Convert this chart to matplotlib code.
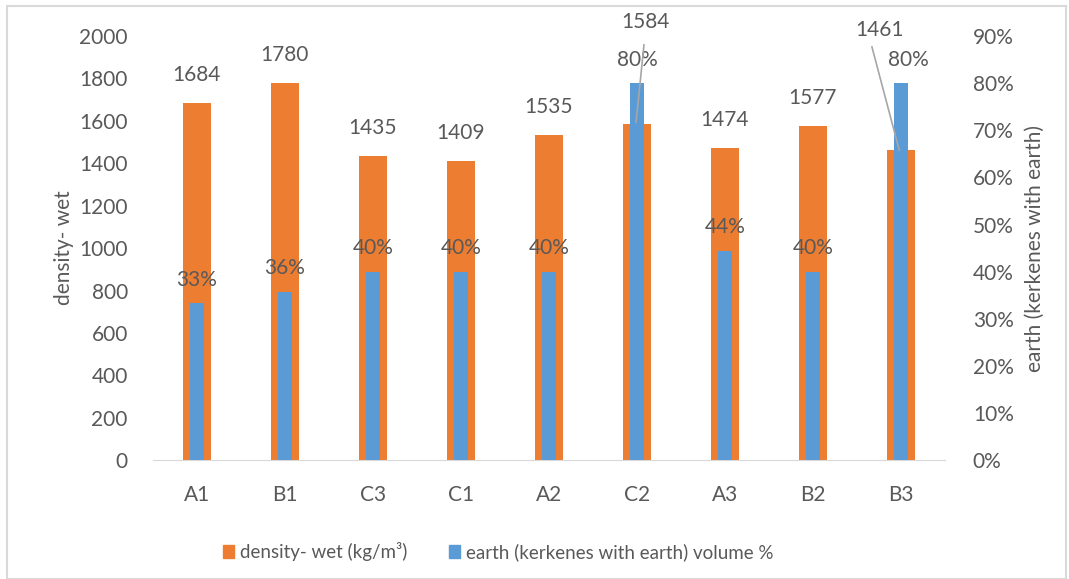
import matplotlib.pyplot as plt
from matplotlib.patches import Rectangle

plt.rcParams["font.family"] = ["Lato", "DejaVu Sans"]

samples = ["A1", "B1", "C3", "C1", "A2", "C2", "A3", "B2", "B3"]
density_wet = [1684, 1780, 1435, 1409, 1535, 1584, 1474, 1577, 1461]
earth_volume = [0.333, 0.357, 0.40, 0.40, 0.40, 0.80, 0.444, 0.40, 0.80]

orange = "#ED7D31"
blue = "#5B9BD5"
text_col = "#595959"
fs = 15

fig = plt.figure(figsize=(10.69, 5.79), dpi=100)
ax = fig.add_axes([0.143, 0.205, 0.741, 0.733])
ax2 = ax.twinx()

x = list(range(len(samples)))
ax.bar(x, density_wet, width=0.31, color=orange, zorder=2)
ax2.bar(x, earth_volume, width=0.16, color=blue, zorder=2)

ax.set_xlim(-0.5, len(samples) - 0.5)
ax.set_ylim(0, 2000)
ax2.set_ylim(0, 0.9)
ax.set_yticks(range(0, 2001, 200))
ax2.set_yticks([i / 10 for i in range(10)])
ax2.set_yticklabels([f"{i * 10}%" for i in range(10)])
ax.set_xticks(x)
ax.set_xticklabels(samples)

for a in (ax, ax2):
    for s in a.spines.values():
        s.set_visible(False)
    a.tick_params(length=0, labelsize=fs, labelcolor=text_col, pad=18)
ax.spines["bottom"].set_visible(True)
ax.spines["bottom"].set_color("#D9D9D9")
ax.tick_params(axis="x", pad=18)
ax2.tick_params(axis="y", pad=20)
ax2.set_zorder(ax.get_zorder() + 1)
ax2.patch.set_visible(False)

ax.set_ylabel("density- wet", fontsize=fs, color=text_col, labelpad=4)
ax2.set_ylabel("earth (kerkenes with earth)", fontsize=fs, color=text_col, labelpad=8)

# data labels; C2 and B3 labels are moved off the bars with leader lines
moved = {5: ((5.1, 2066), (5.0, 1887), (5.08, 1958), (4.99, 1594)),
         8: ((7.76, 2028), (8.08, 1887), (7.67, 1948), (7.98, 1462))}
for i, (d, p) in enumerate(zip(density_wet, earth_volume)):
    if i in moved:
        dpos, ppos, l0, l1 = moved[i]
        ax.text(*dpos, f"{d}", ha="center", va="center", fontsize=fs,
                color=text_col, zorder=5)
        ax.text(*ppos, f"{p:.0%}", ha="center", va="center", fontsize=fs,
                color=text_col, zorder=5)
        ax2.plot([l0[0], l1[0]], [l0[1] / 2000 * 0.9, l1[1] / 2000 * 0.9],
                 color="#A6A6A6", lw=1.2, zorder=6, clip_on=False)
    else:
        ax.text(i, d + 132, f"{d}", ha="center", va="center", fontsize=fs,
                color=text_col)
        ax2.text(i, p + 0.05, f"{p:.0%}", ha="center", va="center",
                 fontsize=fs, color=text_col)

# legend
handles = [Rectangle((0, 0), 1, 1, color=orange), Rectangle((0, 0), 1, 1, color=blue)]
fig.legend(handles, ["density- wet (kg/m³)", "earth (kerkenes with earth) volume %"],
           loc="center", bbox_to_anchor=(0.466, 0.047), ncol=2, frameon=False,
           fontsize=13.5, labelcolor=text_col, handlelength=0.6, handleheight=0.7,
           handletextpad=0.3, columnspacing=2.2)

# chart border
fig.patches.append(Rectangle((0.007, 0.0), 0.99, 0.99, transform=fig.transFigure,
                             fill=False, edgecolor="#D9D9D9", lw=1.5))

fig.savefig("out.png", dpi=100)
